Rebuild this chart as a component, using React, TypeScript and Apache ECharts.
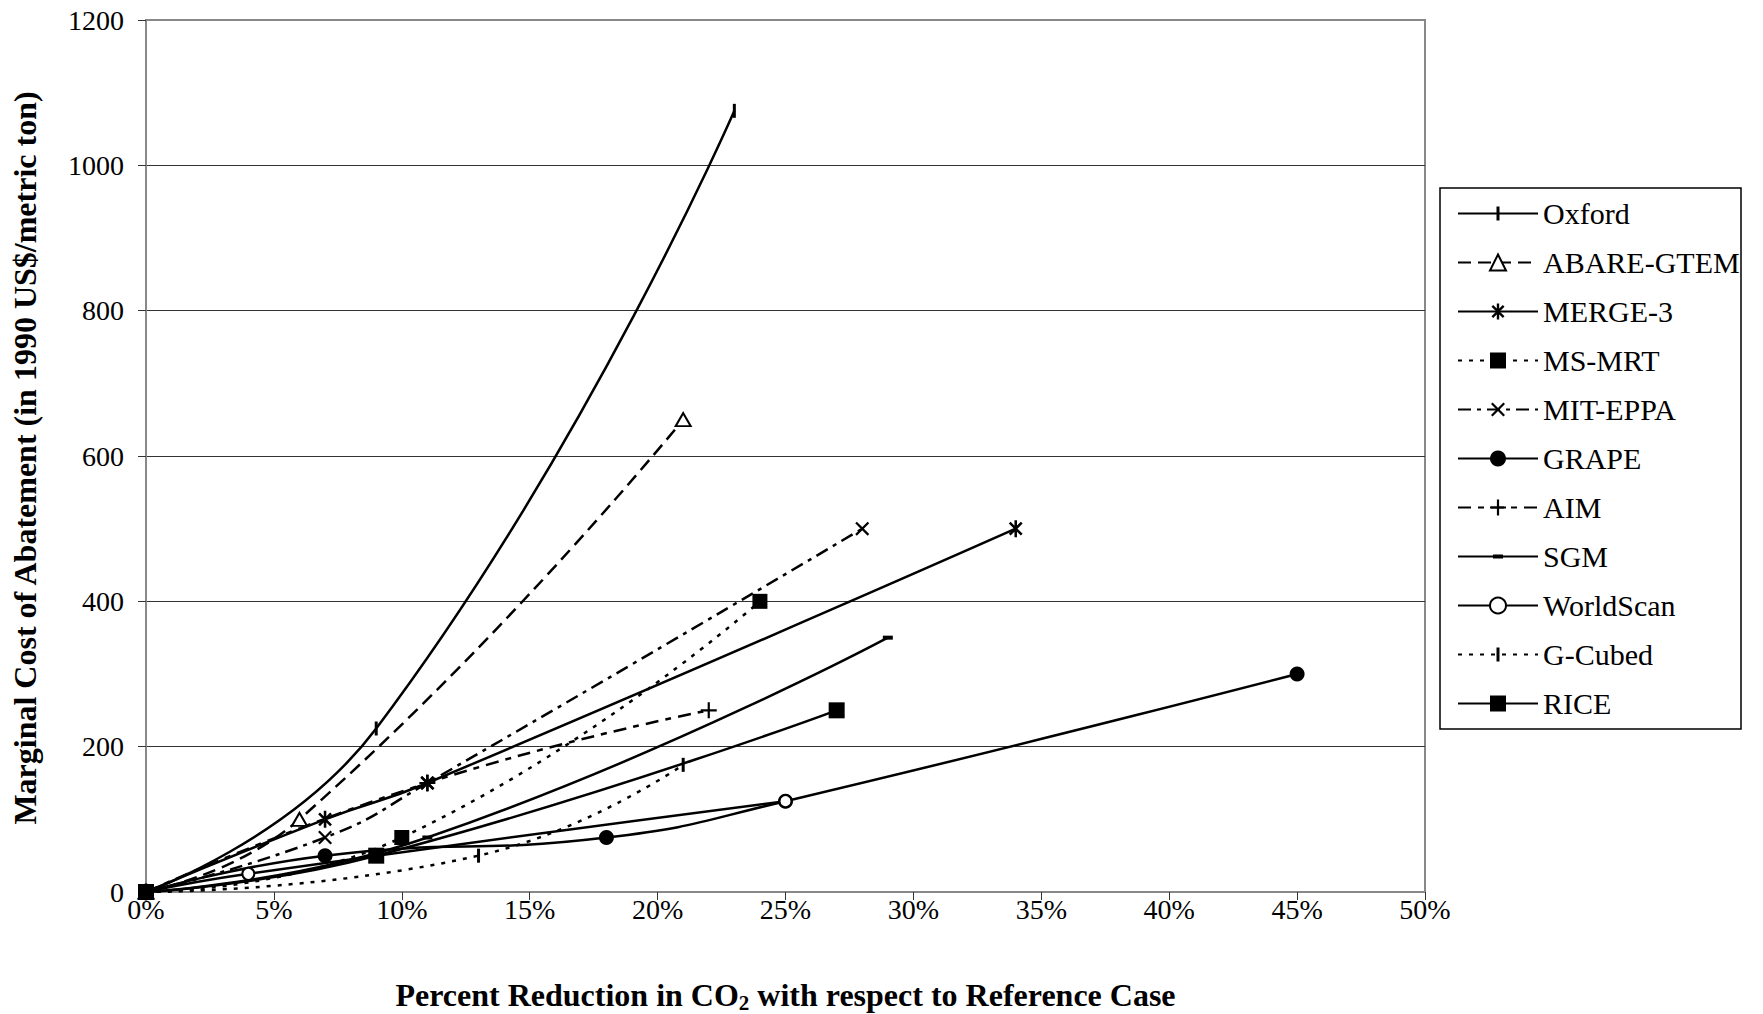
import React, { useEffect, useRef } from 'react';
import * as echarts from 'echarts';

// ---- data (x = % reduction in CO2, y = marginal cost, 1990 US$/metric ton) ----
const seriesNames = ['Oxford', 'ABARE-GTEM', 'MERGE-3', 'MS-MRT', 'MIT-EPPA', 'GRAPE', 'AIM', 'SGM', 'WorldScan', 'G-Cubed', 'RICE'];
const oxford = [[0, 0], [9, 225], [23, 1075]];
const abareGtem = [[0, 0], [6, 100], [21, 650]];
const merge3 = [[0, 0], [7, 100], [11, 150], [34, 500]];
const msMrt = [[0, 0], [10, 75], [24, 400]];
const mitEppa = [[0, 0], [7, 75], [11, 150], [28, 500]];
const grape = [[0, 0], [7, 50], [18, 75], [25, 125], [45, 300]];
const aim = [[0, 0], [11, 150], [22, 250]];
const sgm = [[0, 0], [11, 75], [29, 350]];
const worldScan = [[0, 0], [4, 25], [25, 125]];
const gCubed = [[0, 0], [13, 50], [21, 175]];
const rice = [[0, 0], [9, 50], [27, 250]];

const xMin = 0, xMax = 50, xStep = 5;
const yMin = 0, yMax = 1200, yStep = 200;
const xTitleParts = ['Percent Reduction in CO', '2', ' with respect to Reference Case'];
const yTitle = 'Marginal Cost of Abatement (in 1990 US$/metric ton)';

// ---- styles ----
const FONT = 'Liberation Serif';
const BOX = 'M-8,-8L-8,-8M8,8L8,8';
const VBAR = 'path://M-1.5,-7L1.5,-7L1.5,7L-1.5,7Z' + BOX;
const PLUS = 'path://M-1.1,-8L1.1,-8L1.1,-1.1L8,-1.1L8,1.1L1.1,1.1L1.1,8L-1.1,8L-1.1,1.1L-8,1.1L-8,-1.1L-1.1,-1.1Z';
const XMARK = 'path://M-7,-5.4L-5.4,-7L7,5.4L5.4,7ZM5.4,-7L7,-5.4L-5.4,7L-7,5.4Z' + BOX;
const ASTER = 'path://M-6.5,-4.8L-4.8,-6.5L6.5,4.8L4.8,6.5ZM4.8,-6.5L6.5,-4.8L-4.8,6.5L-6.5,4.8ZM-1.2,-8L1.2,-8L1.2,8L-1.2,8Z' + BOX;
const DASH = 'path://M-5,-2L5,-2L5,2L-5,2Z' + BOX;

const looks: Record<string, { data: number[][]; dash: any; symbol: string; size: any; border?: number }> = {
  'Oxford': { data: oxford, dash: 'solid', symbol: VBAR, size: 16 },
  'ABARE-GTEM': { data: abareGtem, dash: [13, 7], symbol: 'emptyTriangle', size: [15, 13], border: 2 },
  'MERGE-3': { data: merge3, dash: 'solid', symbol: ASTER, size: 17 },
  'MS-MRT': { data: msMrt, dash: [4, 7], symbol: 'rect', size: 15 },
  'MIT-EPPA': { data: mitEppa, dash: [13, 6, 4, 6], symbol: XMARK, size: 16 },
  'GRAPE': { data: grape, dash: 'solid', symbol: 'circle', size: 15 },
  'AIM': { data: aim, dash: [13, 7, 6, 7], symbol: PLUS, size: 16 },
  'SGM': { data: sgm, dash: 'solid', symbol: DASH, size: 16 },
  'WorldScan': { data: worldScan, dash: 'solid', symbol: 'emptyCircle', size: 12, border: 2 },
  'G-Cubed': { data: gCubed, dash: [4, 7], symbol: VBAR, size: 16 },
  'RICE': { data: rice, dash: 'solid', symbol: 'rect', size: 16 },
};

function buildOption() {
  const series = seriesNames.map((name) => {
    const l = looks[name];
    return {
      name,
      type: 'line',
      data: l.data,
      smooth: 0.5,
      symbol: l.symbol,
      symbolSize: l.size,
      showSymbol: true,
      lineStyle: { color: '#000', width: 2.5, type: l.dash },
      itemStyle: { color: '#000', borderColor: '#000', borderWidth: l.border || 0 },
      emphasis: { disabled: true },
      silent: true,
    };
  });
  return {
    animation: false,
    backgroundColor: '#fff',
    textStyle: { fontFamily: FONT, color: '#000' },
    grid: {
      left: 146, top: 20, width: 1279, height: 872,
      show: true, borderColor: '#888', borderWidth: 2, backgroundColor: 'transparent',
    },
    xAxis: {
      type: 'value', min: xMin, max: xMax, interval: xStep,
      axisLine: { show: true, lineStyle: { color: '#888', width: 2 } },
      axisTick: { show: true, inside: false, length: 8, lineStyle: { color: '#333', width: 1 } },
      axisLabel: { formatter: (v: number) => v + '%', fontSize: 28, fontFamily: FONT, color: '#000', margin: 3 },
      splitLine: { show: false },
    },
    yAxis: {
      type: 'value', min: yMin, max: yMax, interval: yStep,
      axisLine: { show: true, lineStyle: { color: '#888', width: 2 } },
      axisTick: { show: true, inside: false, length: 8, lineStyle: { color: '#333', width: 1 } },
      axisLabel: { formatter: (v: number) => String(v), fontSize: 28, fontFamily: FONT, color: '#000', margin: 22 },
      splitLine: { show: true, showMinLine: false, showMaxLine: false, lineStyle: { color: '#333', width: 1 } },
    },
    legend: {
      orient: 'vertical', left: 1457, top: 198.5, padding: 0,
      itemWidth: 80, itemHeight: 20, itemGap: 19,
      selectedMode: false,
      data: seriesNames,
      textStyle: { fontSize: 30, fontFamily: FONT, color: '#000', lineHeight: 30 },
      z: 10,
    },
    graphic: [
      {
        type: 'rect', z: 1,
        shape: { x: 1440, y: 188, width: 301, height: 541 },
        style: { fill: '#fff', stroke: '#000', lineWidth: 1.5 },
        silent: true,
      },
      {
        type: 'text', x: 785.5, y: 995, silent: true,
        style: {
          text: `{a|${xTitleParts[0]}}{b|${xTitleParts[1]}}{a|${xTitleParts[2]}}`,
          align: 'center', verticalAlign: 'middle', fill: '#000',
          fontFamily: FONT, fontSize: 32, fontWeight: 'bold',
          rich: {
            a: { fontSize: 32, fontFamily: FONT, fontWeight: 'bold', fill: '#000', lineHeight: 36 },
            b: { fontSize: 21, fontFamily: FONT, fontWeight: 'bold', fill: '#000', lineHeight: 20, padding: [16, 0, 0, 0], verticalAlign: 'bottom' },
          },
        },
      },
      {
        type: 'text', x: 25, y: 458, rotation: Math.PI / 2, silent: true,
        style: {
          text: yTitle, align: 'center', verticalAlign: 'middle', fill: '#000',
          fontFamily: FONT, fontSize: 32, fontWeight: 'bold',
        },
      },
    ],
    series,
  };
}

export default function App() {
  const ref = useRef<HTMLDivElement>(null);
  useEffect(() => {
    const chart = echarts.init(ref.current!, null, { renderer: 'svg' });
    chart.setOption(buildOption() as any);
    return () => chart.dispose();
  }, []);
  return (
    <div
      ref={ref}
      style={{ position: 'absolute', left: 0, top: 0, width: 1763, height: 1014, background: '#fff' }}
    />
  );
}
